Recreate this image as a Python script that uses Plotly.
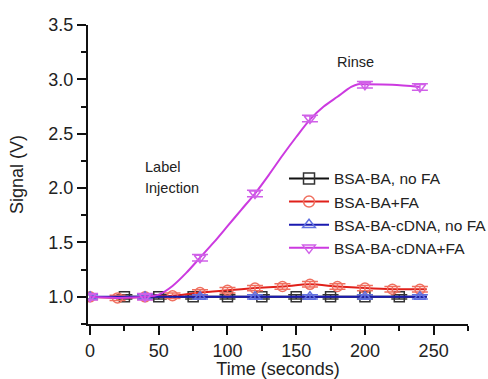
import plotly.graph_objects as go

# Data
black_x = [20, 25, 50, 75, 100, 125, 150, 175, 200, 225, 245]
black_y = [1.0, 1.0, 1.0, 1.0, 1.0, 1.0, 1.0, 1.0, 1.0, 1.0, 1.0]
black_mx = [25, 50, 75, 100, 125, 150, 175, 200, 225]
black_my = [1.0, 1.0, 1.0, 1.0, 1.0, 1.0, 1.0, 1.0, 1.0]

red_x = [0, 20, 40, 60, 80, 100, 120, 140, 160, 180, 200, 220, 240, 245]
red_y = [1.0, 0.99, 1.0, 1.01, 1.04, 1.06, 1.08, 1.095, 1.115, 1.095, 1.08, 1.07, 1.07, 1.07]
red_mx = [0, 20, 40, 60, 80, 100, 120, 140, 160, 180, 200, 220, 240]
red_my = [1.0, 0.99, 1.0, 1.01, 1.04, 1.06, 1.08, 1.095, 1.115, 1.095, 1.08, 1.07, 1.07]

blue_x = [0, 40, 80, 120, 160, 200, 240, 245]
blue_y = [1.0, 1.0, 1.0, 1.0, 1.0, 1.0, 1.0, 1.0]
blue_mx = [0, 40, 80, 120, 160, 200, 240]
blue_my = [1.0, 1.0, 1.0, 1.0, 1.0, 1.0, 1.0]

mag_x = [0, 20, 40, 50, 60, 70, 80, 90, 100, 110, 120, 130, 140, 150, 160, 170, 180, 190, 195, 200, 220, 240]
mag_y = [1.0, 0.99, 1.0, 1.02, 1.1, 1.22, 1.36, 1.5, 1.65, 1.8, 1.95, 2.12, 2.3, 2.47, 2.63, 2.75, 2.84, 2.93, 2.955, 2.955, 2.95, 2.93]
mag_mx = [0, 40, 80, 120, 160, 200, 240]
mag_my = [1.0, 1.0, 1.36, 1.95, 2.64, 2.95, 2.93]

names = ["BSA-BA, no FA", "BSA-BA+FA", "BSA-BA-cDNA, no FA", "BSA-BA-cDNA+FA"]
line_colors = ["#111111", "#e0201a", "#1a1ab0", "#cc3ae0"]
marker_colors = ["#333333", "#f07060", "#6070e0", "#d060e8"]
symbols = ["square-open", "circle-open", "triangle-up-open", "triangle-down-open"]
errs = [0.02, 0.025, 0.02, 0.03]

series = [
    (black_x, black_y, black_mx, black_my),
    (red_x, red_y, red_mx, red_my),
    (blue_x, blue_y, blue_mx, blue_my),
    (mag_x, mag_y, mag_mx, mag_my),
]

fig = go.Figure()
for i, (lx, ly, mx, my) in enumerate(series):
    fig.add_trace(go.Scatter(
        x=lx, y=ly, mode="lines", showlegend=False,
        line=dict(color=line_colors[i], width=2, shape="spline", smoothing=0.8),
    ))
    fig.add_trace(go.Scatter(
        x=mx, y=my, mode="markers", showlegend=False,
        marker=dict(symbol=symbols[i], size=10, color=marker_colors[i], line=dict(width=1.5, color=marker_colors[i])),
        error_y=dict(type="constant", value=errs[i], color=marker_colors[i], thickness=1.5, width=8),
    ))
    fig.add_trace(go.Scatter(
        x=[None], y=[None], mode="lines+markers", name=names[i],
        line=dict(color=line_colors[i], width=2),
        marker=dict(symbol=symbols[i], size=11, color=marker_colors[i], line=dict(width=1.5, color=marker_colors[i])),
    ))

font_family = "Liberation Sans, Arial, sans-serif"

fig.add_annotation(x=193, y=3.16, text="Rinse", showarrow=False, font=dict(size=14.5, color="#222"), xanchor="center")
fig.add_annotation(x=38.5, y=2.19, text="Label", showarrow=False, font=dict(size=14.5, color="#222"), xanchor="left")
fig.add_annotation(x=38.5, y=2.0, text="Injection", showarrow=False, font=dict(size=14.5, color="#222"), xanchor="left")

fig.update_layout(
    width=488, height=379,
    margin=dict(l=88, r=20, t=25, b=55, autoexpand=False),
    paper_bgcolor="white", plot_bgcolor="white",
    font=dict(family=font_family, color="#222", size=16),
    legend=dict(x=0.582, y=0.573, xref="container", yref="container", xanchor="left", yanchor="top",
                font=dict(size=15.5, color="#222"), bgcolor="rgba(0,0,0,0)",
                tracegroupgap=0, itemwidth=40, borderwidth=0),
    xaxis=dict(
        range=[-1.5, 275], showgrid=False, zeroline=False, automargin=False,
        showline=True, linecolor="#111", linewidth=2,
        ticks="outside", ticklen=9, tickwidth=2, tickcolor="#111",
        tickvals=[0, 50, 100, 150, 200, 250],
        minor=dict(tickvals=[25, 75, 125, 175, 225, 275], ticks="outside", ticklen=5, tickwidth=2, tickcolor="#111"),
        tickfont=dict(size=18),
        title=dict(text="Time (seconds)", font=dict(size=18), standoff=2),
    ),
    yaxis=dict(
        range=[0.75, 3.5], showgrid=False, zeroline=False, automargin=False,
        showline=True, linecolor="#111", linewidth=2,
        ticks="outside", ticklen=9, tickwidth=2, tickcolor="#111",
        tickvals=[1.0, 1.5, 2.0, 2.5, 3.0, 3.5], tickformat=".1f",
        minor=dict(tickvals=[0.75, 1.25, 1.75, 2.25, 2.75, 3.25], ticks="outside", ticklen=5, tickwidth=2, tickcolor="#111"),
        tickfont=dict(size=18),
        title=dict(text="Signal (V)", font=dict(size=18), standoff=20),
    ),
)

fig.write_html("out.html")
